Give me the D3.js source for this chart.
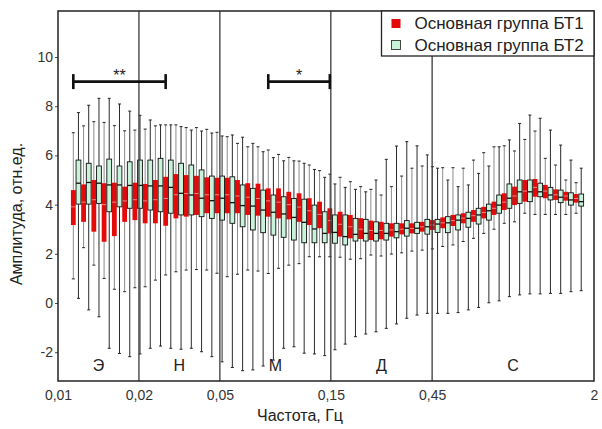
<!DOCTYPE html>
<html>
<head>
<meta charset="utf-8">
<script src="https://cdn.jsdelivr.net/npm/d3@7"></script>
<style>
    body { margin: 0; background: #fff; }
    text { font-family: "Liberation Sans", Arial, sans-serif; fill: #222; }
</style>
</head>
<body>
<div id="chart"></div>
<script>

// frequency bins (one box pair per bin)
var bins = d3.range(50);

// band edges on the frequency axis and the band names
var freqTicks = [0.01, 0.02, 0.05, 0.15, 0.45, 2];
var tickLabels = ["0,01", "0,02", "0,05", "0,15", "0,45", "2"];
var bandNames = ["Э", "Н", "М", "Д", "С"];

// group 1 (red)
var bt1Max = [6.92, 7.2, 7.37, 7.34, 7.21, 7.0, 7.03, 7.07, 7.2, 7.24, 7.24, 7.13, 7.13, 7.06, 6.94, 6.76, 6.49, 6.35, 6.35, 6.22, 6.04, 5.92, 5.77, 5.61, 5.38, 5.24, 5.11, 4.93, 4.73, 4.62, 4.39, 4.73, 5.16, 5.48, 5.57, 5.54, 5.5, 5.5, 5.48, 5.81, 6.11, 6.35, 6.39, 6.18, 6.65, 6.99, 5.88, 5.61, 5.0, 4.89];
var bt1Q3 = [4.59, 4.82, 5.0, 4.87, 4.89, 4.73, 4.89, 4.84, 5.0, 5.13, 5.24, 5.2, 5.17, 5.11, 5.09, 5.09, 5.0, 4.87, 4.85, 4.66, 4.66, 4.52, 4.46, 4.26, 4.12, 3.85, 3.71, 3.58, 3.45, 3.35, 3.3, 3.24, 3.24, 3.24, 3.3, 3.37, 3.48, 3.58, 3.65, 3.78, 3.91, 4.12, 4.46, 4.73, 5.0, 5.04, 4.8, 4.62, 4.52, 4.43];
var bt1Med = [3.91, 4.1, 4.2, 4.0, 4.1, 4.15, 4.2, 4.15, 4.2, 4.25, 4.4, 4.45, 4.45, 4.4, 4.4, 4.4, 4.35, 4.3, 4.25, 4.15, 4.1, 4.0, 3.9, 3.75, 3.6, 3.35, 3.2, 3.1, 3.0, 2.95, 2.95, 2.97, 3.0, 3.03, 3.1, 3.17, 3.26, 3.35, 3.45, 3.55, 3.68, 3.85, 4.1, 4.35, 4.55, 4.7, 4.55, 4.4, 4.35, 4.25];
var bt1Q1 = [3.17, 3.3, 2.9, 2.49, 2.72, 3.3, 3.37, 3.24, 3.24, 3.14, 3.44, 3.51, 3.58, 3.65, 3.65, 3.65, 3.65, 3.58, 3.55, 3.51, 3.44, 3.4, 3.3, 3.17, 3.04, 2.83, 2.7, 2.63, 2.6, 2.56, 2.59, 2.7, 2.79, 2.83, 2.9, 2.97, 3.04, 3.13, 3.24, 3.3, 3.44, 3.58, 3.78, 3.98, 4.12, 4.32, 4.26, 4.19, 4.16, 4.08];
var bt1Min = [0.98, 2.25, 1.54, 1.0, 0.56, 0.46, 0.62, 0.66, 0.93, 1.14, 1.27, 1.34, 1.36, 1.34, 1.21, 1.07, 1.17, 1.34, 1.3, 1.2, 1.41, 1.54, 1.6, 1.88, 1.88, 1.88, 1.86, 1.78, 1.8, 1.95, 1.91, 1.99, 2.04, 2.11, 2.15, 2.2, 2.3, 2.36, 2.5, 2.63, 2.83, 3.0, 3.24, 3.3, 3.65, 3.6, 3.6, 3.6, 3.6, 3.65];

// group 2 (green)
var bt2Max = [7.74, 8.04, 8.32, 8.32, 8.09, 7.8, 7.63, 7.44, 7.24, 7.24, 7.17, 7.03, 6.99, 6.91, 6.79, 6.83, 6.74, 6.49, 6.15, 5.91, 5.78, 5.78, 5.68, 5.43, 5.11, 4.84, 4.7, 4.62, 4.52, 5.0, 5.84, 6.38, 6.56, 6.39, 6.02, 5.48, 5.0, 4.73, 4.8, 5.27, 5.57, 6.35, 6.63, 7.3, 7.64, 7.51, 7.03, 6.42, 5.81, 5.48];
var bt2Q3 = [5.81, 5.68, 5.57, 5.85, 5.57, 5.74, 5.81, 5.81, 5.88, 5.81, 5.68, 5.61, 5.41, 5.16, 5.16, 5.13, 4.8, 4.66, 4.59, 4.39, 4.32, 4.25, 4.22, 3.98, 3.71, 3.58, 3.58, 3.44, 3.4, 3.3, 3.24, 3.24, 3.35, 3.28, 3.4, 3.4, 3.51, 3.58, 3.69, 3.85, 4.02, 4.39, 4.84, 5.0, 5.0, 4.87, 4.7, 4.59, 4.48, 4.43];
var bt2Med = [4.87, 4.9, 4.87, 4.8, 4.8, 4.78, 4.78, 4.76, 4.76, 4.7, 4.46, 4.39, 4.26, 4.16, 4.26, 4.08, 3.96, 3.94, 3.78, 3.69, 3.62, 3.48, 3.28, 3.01, 2.83, 2.87, 2.7, 2.79, 2.83, 2.83, 2.83, 2.9, 3.04, 3.04, 3.1, 3.21, 3.26, 3.37, 3.44, 3.58, 3.75, 3.98, 4.26, 4.52, 4.52, 4.52, 4.39, 4.3, 4.19, 4.12];
var bt2Q1 = [4.02, 4.02, 4.05, 3.71, 3.91, 3.85, 3.85, 3.78, 3.71, 3.65, 3.58, 3.58, 3.51, 3.44, 3.37, 3.24, 3.1, 2.97, 2.86, 2.76, 2.67, 2.56, 2.45, 2.45, 2.45, 2.43, 2.36, 2.52, 2.52, 2.52, 2.56, 2.65, 2.72, 2.83, 2.8, 2.87, 2.86, 2.97, 3.08, 3.21, 3.37, 3.65, 3.85, 4.05, 4.12, 4.32, 4.19, 4.08, 3.98, 3.94];
var bt2Min = [0.19, -0.28, -0.56, -1.84, -2.05, -2.18, -2.07, -1.84, -1.75, -1.84, -1.88, -1.84, -1.98, -2.18, -2.39, -2.62, -2.75, -2.72, -2.56, -2.32, -1.84, -1.78, -2.04, -2.07, -2.14, -1.9, -1.67, -1.37, -1.26, -1.17, -1.03, -0.85, -0.62, -0.49, -0.42, -0.42, -0.42, -0.39, -0.28, -0.18, 0.01, 0.09, 0.26, 0.33, 0.37, 0.37, 0.39, 0.39, 0.46, 0.5];

// significance brackets, in bins
var sigFrom = [0, 19];
var sigTo = [9, 25];
var sigLabels = ["**", "*"];

var yTicks = [-2, 0, 2, 4, 6, 8, 10];

var groups = [
    { name: "Основная группа БТ1", min: bt1Min, q1: bt1Q1, med: bt1Med, q3: bt1Q3, max: bt1Max,
      fill: "#e40a0a", stroke: "none", medColor: "#f6a3a3", whisker: "#8c8c8c", shift: -0.25 },
    { name: "Основная группа БТ2", min: bt2Min, q1: bt2Q1, med: bt2Med, q3: bt2Q3, max: bt2Max,
      fill: "#c9f2da", stroke: "#111", medColor: "#111", whisker: "#2a2a2a", shift: 0.25 }
];

var margin = { top: 11, right: 8, bottom: 48, left: 58 };
var width = 602 - margin.left - margin.right;
var height = 429 - margin.top - margin.bottom;

var svg = d3.select("#chart")
    .append("svg")
    .attr("width", 602)
    .attr("height", 429)
    .append("g")
    .attr("transform", "translate(" + margin.left + "," + margin.top + ")");

// bins sit evenly across the plot
var x = d3.scaleBand()
    .domain(bins)
    .range([0, width])
    .paddingInner(0)
    .paddingOuter(1.12)
    .align(0.555);

// frequency axis is piecewise log between the band edges
var edgeFrac = [0, 0.151, 0.302, 0.509, 0.698, 1];
var xf = d3.scaleLog()
    .domain(freqTicks)
    .range(edgeFrac.map(function (f) { return f * width; }));

var y = d3.scaleLinear()
    .domain([-3.17, 11.87])
    .range([height, 0]);

var boxW = 4.8;

var pos = function (g, i) {
    return x(i) + x.bandwidth() / 2 + g.shift * x.step();
};

// boxes, group by group
groups.forEach(function (g) {
    var layer = svg.append("g");

    layer.selectAll(".whisk")
        .data(bins)
        .enter()
        .append("line")
        .attr("x1", function (i) { return pos(g, i); })
        .attr("x2", function (i) { return pos(g, i); })
        .attr("y1", function (i) { return y(g.min[i]); })
        .attr("y2", function (i) { return y(g.max[i]); })
        .style("stroke", g.whisker)
        .style("stroke-width", 1);

    // little caps at whisker ends
    ["min", "max"].forEach(function (k) {
        layer.selectAll(".cap" + k)
            .data(bins)
            .enter()
            .append("line")
            .attr("x1", function (i) { return pos(g, i) - 1.5; })
            .attr("x2", function (i) { return pos(g, i) + 1.5; })
            .attr("y1", function (i) { return y(g[k][i]); })
            .attr("y2", function (i) { return y(g[k][i]); })
            .style("stroke", "#222")
            .style("stroke-width", 1);
    });

    layer.selectAll(".box")
        .data(bins)
        .enter()
        .append("rect")
        .attr("x", function (i) { return pos(g, i) - boxW / 2; })
        .attr("y", function (i) { return y(g.q3[i]); })
        .attr("width", boxW)
        .attr("height", function (i) { return y(g.q1[i]) - y(g.q3[i]); })
        .style("fill", g.fill)
        .style("stroke", g.stroke)
        .style("stroke-width", 0.9);

    layer.selectAll(".med")
        .data(bins)
        .enter()
        .append("line")
        .attr("x1", function (i) { return pos(g, i) - boxW / 2; })
        .attr("x2", function (i) { return pos(g, i) + boxW / 2; })
        .attr("y1", function (i) { return y(g.med[i]); })
        .attr("y2", function (i) { return y(g.med[i]); })
        .style("stroke", g.medColor)
        .style("stroke-width", g.stroke === "none" ? 0.8 : 1.3);
});

// band edges
svg.selectAll(".edge")
    .data(freqTicks.slice(1, -1))
    .enter()
    .append("line")
    .attr("x1", function (d) { return xf(d); })
    .attr("x2", function (d) { return xf(d); })
    .attr("y1", 0)
    .attr("y2", height)
    .style("stroke", "#3a3a3a")
    .style("stroke-width", 1.3);

// band names
svg.selectAll(".bandname")
    .data(bandNames)
    .enter()
    .append("text")
    .attr("x", function (d, i) { return (xf(freqTicks[i]) + xf(freqTicks[i + 1])) / 2; })
    .attr("y", height - 10)
    .attr("text-anchor", "middle")
    .style("font-size", "16px")
    .text(function (d) { return d; });

// significance brackets
sigLabels.forEach(function (lab, k) {
    var x1 = pos(groups[0], sigFrom[k]);
    var x2 = pos(groups[0], sigTo[k]);
    var yy = y(9.0);
    var br = svg.append("g");
    br.append("line")
        .attr("x1", x1).attr("x2", x2).attr("y1", yy).attr("y2", yy)
        .style("stroke", "#111").style("stroke-width", 2.6);
    [x1, x2].forEach(function (xx) {
        br.append("line")
            .attr("x1", xx).attr("x2", xx).attr("y1", yy - 7.5).attr("y2", yy + 7.5)
            .style("stroke", "#111").style("stroke-width", 2.6);
    });
    br.append("text")
        .attr("x", (x1 + x2) / 2)
        .attr("y", yy - 1)
        .attr("text-anchor", "middle")
        .style("font-size", "16px")
        .text(lab);
});

// y axis
var yaxis = svg.append("g")
    .call(d3.axisLeft(y).tickValues(yTicks).tickSize(3).tickPadding(2)
        .tickFormat(function (d) { return String(d); }));
yaxis.select("path").remove();
yaxis.selectAll("line").style("stroke", "#444");
yaxis.selectAll("text")
    .style("font-size", "14px")
    .style("fill", "#333")
    .attr("font-family", null);

// x axis (labels only, the edges are drawn above)
var xaxis = svg.append("g")
    .attr("transform", "translate(0," + height + ")")
    .call(d3.axisBottom(xf).tickValues(freqTicks).tickSize(0).tickPadding(9)
        .tickFormat(function (d, i) { return tickLabels[i]; }));
xaxis.select("path").remove();
xaxis.selectAll("text")
    .style("font-size", "14px")
    .style("fill", "#333")
    .attr("font-family", null);

// frame
svg.append("rect")
    .attr("x", 0).attr("y", 0)
    .attr("width", width).attr("height", height)
    .style("fill", "none")
    .style("stroke", "#222")
    .style("stroke-width", 1.5);

// legend
var lgX = width - 212.5;
var legend = svg.append("g").attr("transform", "translate(" + lgX + ",0)");
legend.append("rect")
    .attr("x", 0).attr("y", 0)
    .attr("width", 212.5).attr("height", 45)
    .style("fill", "#fff")
    .style("stroke", "#222")
    .style("stroke-width", 1.3);
groups.forEach(function (g, k) {
    var cy = 12.5 + k * 21.5;
    legend.append("rect")
        .attr("x", 10).attr("y", cy - 4.5)
        .attr("width", 9).attr("height", 9)
        .style("fill", g.fill)
        .style("stroke", g.stroke === "none" ? "none" : "#333")
        .style("stroke-width", 0.9);
    legend.append("text")
        .attr("x", 33)
        .attr("y", cy)
        .attr("dy", "0.35em")
        .style("font-size", "17px")
        .text(g.name);
});

// axis titles
svg.append("text")
    .attr("transform", "translate(" + (-36) + "," + (height / 2 + 18) + ") rotate(-90)")
    .attr("text-anchor", "middle")
    .style("font-size", "16px")
    .text("Амплитуда, отн.ед.");

svg.append("text")
    .attr("x", 242)
    .attr("y", height + 40)
    .attr("text-anchor", "middle")
    .style("font-size", "16px")
    .text("Частота, Гц");

</script>
</body>
</html>
